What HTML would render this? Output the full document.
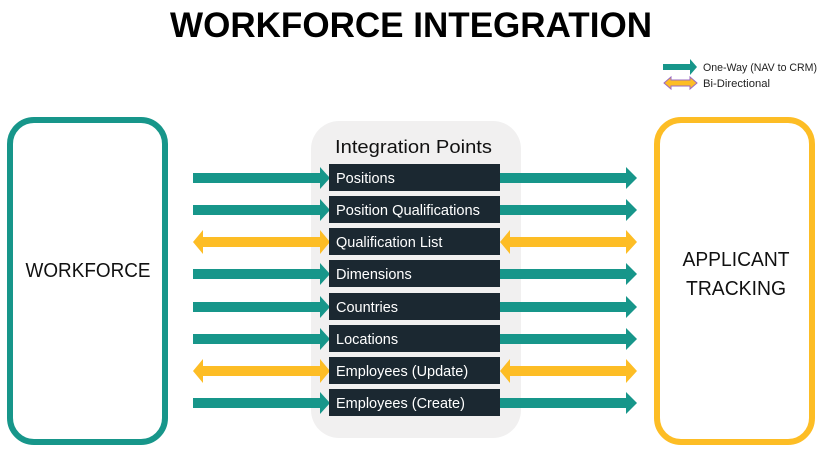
<!DOCTYPE html>
<html><head><meta charset="utf-8"><style>
html,body{margin:0;padding:0;background:#fff;}
svg{display:block;}
</style></head><body>
<svg width="822" height="453" viewBox="0 0 822 453" xmlns="http://www.w3.org/2000/svg" font-family="Liberation Sans, sans-serif">
<defs>
<g id="oneL"><polygon points="193,-5 320,-5 320,-11 330,0 320,11 320,5 193,5" fill="#17968a"/></g>
<g id="oneR"><polygon points="500,-5 626,-5 626,-11 637,0 626,11 626,5 500,5" fill="#17968a"/></g>
<g id="biL"><polygon points="193,0 203,-12 203,-5 320,-5 320,-12 330,0 320,12 320,5 203,5 203,12" fill="#fdbd25"/></g>
<g id="biR"><polygon points="500,0 510,-12 510,-5 626,-5 626,-12 637,0 626,12 626,5 510,5 510,12" fill="#fdbd25"/></g>
</defs>
<text x="411" y="37" text-anchor="middle" font-size="35" font-weight="bold" textLength="482" lengthAdjust="spacingAndGlyphs">WORKFORCE INTEGRATION</text>
<!-- legend -->
<polygon points="663,64 690,64 690,59 697,67 690,75 690,70 663,70" fill="#17968a"/>
<text x="703" y="71" font-size="11" fill="#222" textLength="114" lengthAdjust="spacingAndGlyphs">One-Way (NAV to CRM)</text>
<polygon points="664,83 671,77 671,80 690,80 690,77 697,83 690,89 690,86 671,86 671,89" fill="#fdbd25" stroke="#9b6ac0" stroke-width="1"/>
<text x="703" y="87" font-size="11" fill="#222" textLength="67" lengthAdjust="spacingAndGlyphs">Bi-Directional</text>
<!-- side boxes -->
<rect x="10" y="120" width="155" height="322" rx="24" fill="#fff" stroke="#17968a" stroke-width="6"/>
<text x="88" y="277" text-anchor="middle" font-size="20" fill="#111" textLength="125" lengthAdjust="spacingAndGlyphs">WORKFORCE</text>
<rect x="657" y="120" width="155" height="322" rx="24" fill="#fff" stroke="#fdbd25" stroke-width="6"/>
<text x="736" y="266" text-anchor="middle" font-size="20" fill="#111" textLength="107" lengthAdjust="spacingAndGlyphs">APPLICANT</text>
<text x="736" y="295" text-anchor="middle" font-size="20" fill="#111" textLength="100" lengthAdjust="spacingAndGlyphs">TRACKING</text>
<!-- panel -->
<rect x="311" y="121" width="210" height="317" rx="28" fill="#f1f0f0"/>
<text x="335" y="153" font-size="18" fill="#111" textLength="157" lengthAdjust="spacingAndGlyphs">Integration Points</text>
<g font-size="14.5" fill="#fff">
<g transform="translate(0,178)"><use href="#oneL"/><use href="#oneR"/><rect x="329" y="-14" width="171" height="27" fill="#1b2831"/><text x="336" y="5" fill="#fff">Positions</text></g>
<g transform="translate(0,210)"><use href="#oneL"/><use href="#oneR"/><rect x="329" y="-14" width="171" height="27" fill="#1b2831"/><text x="336" y="5" fill="#fff" textLength="144" lengthAdjust="spacingAndGlyphs">Position Qualifications</text></g>
<g transform="translate(0,242)"><use href="#biL"/><use href="#biR"/><rect x="329" y="-14" width="171" height="27" fill="#1b2831"/><text x="336" y="5" fill="#fff">Qualification List</text></g>
<g transform="translate(0,274)"><use href="#oneL"/><use href="#oneR"/><rect x="329" y="-14" width="171" height="27" fill="#1b2831"/><text x="336" y="5" fill="#fff">Dimensions</text></g>
<g transform="translate(0,307)"><use href="#oneL"/><use href="#oneR"/><rect x="329" y="-14" width="171" height="27" fill="#1b2831"/><text x="336" y="5" fill="#fff">Countries</text></g>
<g transform="translate(0,339)"><use href="#oneL"/><use href="#oneR"/><rect x="329" y="-14" width="171" height="27" fill="#1b2831"/><text x="336" y="5" fill="#fff">Locations</text></g>
<g transform="translate(0,371)"><use href="#biL"/><use href="#biR"/><rect x="329" y="-14" width="171" height="27" fill="#1b2831"/><text x="336" y="5" fill="#fff">Employees (Update)</text></g>
<g transform="translate(0,403)"><use href="#oneL"/><use href="#oneR"/><rect x="329" y="-14" width="171" height="27" fill="#1b2831"/><text x="336" y="5" fill="#fff">Employees (Create)</text></g>
</g>
</svg>
</body></html>
